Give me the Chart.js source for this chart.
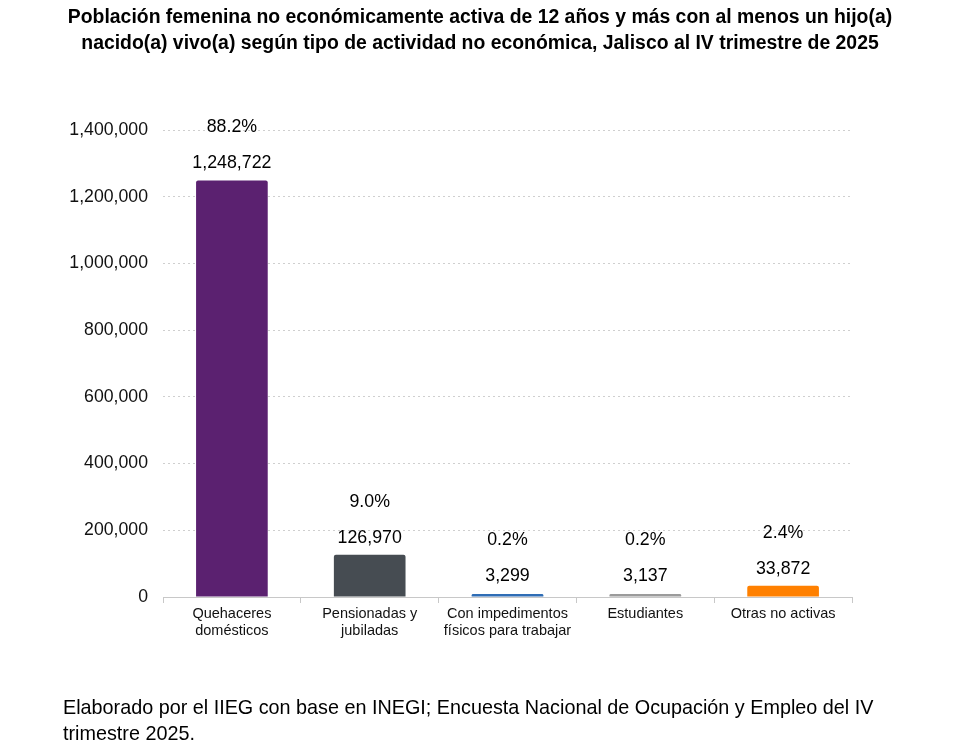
<!DOCTYPE html>
<html><head><meta charset="utf-8">
<script src="https://cdn.jsdelivr.net/npm/chart.js@4/dist/chart.umd.min.js"></script>
<style>
html,body{margin:0;padding:0;background:#fff;}
#wrap{position:relative;width:960px;height:748px;overflow:hidden;font-family:"Liberation Sans",Arial,sans-serif;}
#title{position:absolute;left:0;top:3px;width:960px;text-align:center;font-weight:bold;font-size:19.4px;line-height:26px;color:#000;}
#foot{position:absolute;left:63px;top:694px;font-size:19.8px;line-height:26px;color:#000;width:890px;}
canvas{position:absolute;left:0;top:0;}
</style></head>
<body><div id="wrap">
<canvas id="c" width="960" height="748"></canvas>
<div id="title">Población femenina no económicamente activa de 12 años y más con al menos un hijo(a)<br>nacido(a) vivo(a) según tipo de actividad no económica, Jalisco al IV trimestre de 2025</div>
<div id="foot">Elaborado por el IIEG con base en INEGI; Encuesta Nacional de Ocupación y Empleo del IV<br>trimestre 2025.</div>
</div>
<script>
const categories = [["Quehaceres","domésticos"],["Pensionadas y","jubiladas"],["Con impedimentos","físicos para trabajar"],["Estudiantes"],["Otras no activas"]];
const values = [1248722, 126970, 3299, 3137, 33872];
const percents = [88.2, 9.0, 0.2, 0.2, 2.4];
const barColors = ["#5B2170","#464C52","#2F6DB5","#9B9B9B","#FF8000"];
const yTicks = [0,200000,400000,600000,800000,1000000,1200000,1400000];

const fmt = n => n.toLocaleString("en-US");
const FONT = '"Liberation Sans", Arial, sans-serif';

const labelPlugin = {
  id: "valLabels",
  afterDatasetsDraw(chart){
    const ctx = chart.ctx;
    const meta = chart.getDatasetMeta(0);
    ctx.save();
    ctx.font = "17.8px " + FONT;
    ctx.fillStyle = "#000";
    ctx.textAlign = "center";
    ctx.textBaseline = "middle";
    meta.data.forEach((bar, i) => {
      const top = Math.min(bar.y, bar.base - 3);
      ctx.fillText(fmt(values[i]), bar.x, top - 17);
      ctx.fillText(percents[i].toFixed(1) + "%", bar.x, top - 53);
    });
    ctx.restore();
  }
};

new Chart(document.getElementById("c"), {
  type: "bar",
  data: {
    labels: categories,
    datasets: [{
      data: values,
      backgroundColor: barColors,
      borderWidth: 0,
      borderRadius: 2,
      borderSkipped: "bottom",
      minBarLength: 3,
      categoryPercentage: 1,
      barPercentage: 0.52
    }]
  },
  options: {
    responsive: false,
    animation: false,
    layout: { padding: { top: 130, right: 108, left: 0, bottom: 100 } },
    plugins: { legend: { display: false }, tooltip: { enabled: false }, title: { display: false } },
    scales: {
      x: {
        offset: true,
        afterFit(s){ s.height = 51; },
        grid: { display: true, offset: true, drawOnChartArea: false, drawTicks: true, tickLength: 6, color: "#c8c8c8" },
        border: { display: true, color: "#c8c8c8" },
        ticks: { color: "#111", font: { family: FONT, size: 14.5 }, padding: 2, maxRotation: 0, autoSkip: false }
      },
      y: {
        min: 0, max: 1400000,
        afterFit(s){ s.width = 163; },
        afterBuildTicks(s){ s.ticks = yTicks.map(v => ({ value: v })); },
        grid: { color: "#cfcfcf", drawTicks: false, lineWidth: 1 },
        border: { display: false, dash: [2, 3] },
        ticks: { color: "#111", font: { family: FONT, size: 17.7 }, padding: 15, callback: v => fmt(v) }
      }
    }
  },
  plugins: [labelPlugin]
});
</script>
</body></html>
